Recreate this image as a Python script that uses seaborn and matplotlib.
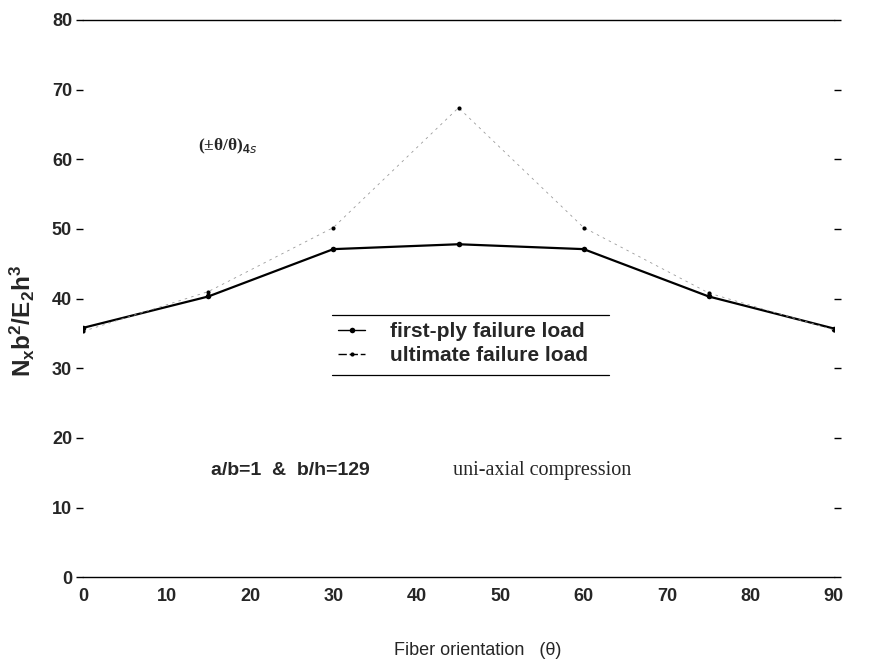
import matplotlib
matplotlib.use("Agg")
import matplotlib.pyplot as plt
import seaborn as sns
import pandas as pd

# ---- data ----
theta = [0, 15, 30, 45, 60, 75, 90]
first_ply = [35.8, 40.3, 47.1, 47.8, 47.1, 40.3, 35.7]
ultimate = [35.3, 41.0, 50.2, 67.4, 50.2, 40.8, 35.5]
series_names = ["first-ply failure load", "ultimate failure load"]
x_ticks = [0, 10, 20, 30, 40, 50, 60, 70, 80, 90]
y_ticks = [0, 10, 20, 30, 40, 50, 60, 70, 80]

sns.set_theme(style="white")
plt.rcParams["font.family"] = ["Liberation Sans", "DejaVu Sans"]
plt.rcParams["mathtext.fontset"] = "custom"
plt.rcParams["mathtext.bf"] = "Liberation Sans:bold"
plt.rcParams["mathtext.rm"] = "Liberation Sans:bold"

df = pd.DataFrame({
    "theta": theta * 2,
    "load": first_ply + ultimate,
    "series": [series_names[0]] * len(theta) + [series_names[1]] * len(theta),
})

fig = plt.figure(figsize=(8.75, 6.65), dpi=100)
ax = fig.add_axes([0.095, 0.132, 0.858, 0.838])

sns.lineplot(data=df[df.series == series_names[0]], x="theta", y="load",
             ax=ax, color="black", linewidth=1.6, marker="o", markersize=4,
             markeredgewidth=0, label=series_names[0], legend=False)
sns.lineplot(data=df[df.series == series_names[1]], x="theta", y="load",
             ax=ax, color="#9a9a9a", linewidth=0.6, marker="o", markersize=3,
             markeredgewidth=0, dashes=False, label=series_names[1], legend=False)
ult_line = ax.lines[1]
ult_line.set_dashes([3, 5])
ult_line.set_markerfacecolor("black")

ax.set_xlim(0, 90)
ax.set_ylim(0, 80)
ax.set_xticks(x_ticks)
ax.set_yticks(y_ticks)
ax.set_xticklabels([str(v) for v in x_ticks], fontsize=13, fontweight="bold")
ax.set_yticklabels([str(v) for v in y_ticks], fontsize=13, fontweight="bold")

for s in ["left", "right"]:
    ax.spines[s].set_visible(False)
for s in ["top", "bottom"]:
    ax.spines[s].set_visible(True)
    ax.spines[s].set_color("black")
    ax.spines[s].set_linewidth(1.0)

ax.tick_params(axis="y", which="both", left=True, right=True, direction="out",
               length=5, width=1, color="black", pad=3)
ax.tick_params(axis="y", which="both", right=True, direction="in", length=2)
ax.tick_params(axis="y", left=True, direction="out", length=5)
ax.tick_params(axis="x", bottom=False, pad=2)

ax.set_xlabel("Fiber orientation   (\u03b8)", fontsize=13)
ax.xaxis.set_label_coords(0.525, -0.117)
ax.set_ylabel(r"$\mathbf{N_x b^2/E_2 h^3}$", fontsize=17.5)
ax.yaxis.set_label_coords(-0.062, 0.46)

# legend with only top and bottom rules
leg = ax.legend(loc="center", bbox_to_anchor=(0.506, 0.419), frameon=False,
                handlelength=1.3, handletextpad=1.2,
                labelspacing=0.25, borderpad=0.4,
                prop={"weight": "bold", "size": 15})
leg_lines = leg.get_lines()
leg_lines[1].set_color("black")
leg_lines[1].set_linewidth(1.0)
leg_lines[1].set_dashes([6, 2])
leg_lines[0].set_linewidth(1.0)
ax.plot([29.8, 63.0], [37.6, 37.6], color="black", linewidth=0.9)
ax.plot([29.8, 63.0], [29.1, 29.1], color="black", linewidth=0.9)

ax.text(13.8, 61.9, "(\u00b1\u03b8/\u03b8)$_{4s}$", fontsize=12.5,
        family="Liberation Serif", fontweight="bold", va="center")
ax.text(15.3, 15.3, "a/b=1  &  b/h=129", fontsize=14, fontweight="bold",
        va="center")
ax.text(44.3, 15.3, "uni-axial compression", fontsize=14.5,
        family="Liberation Serif", va="center")

fig.savefig("out.png", dpi=100)
